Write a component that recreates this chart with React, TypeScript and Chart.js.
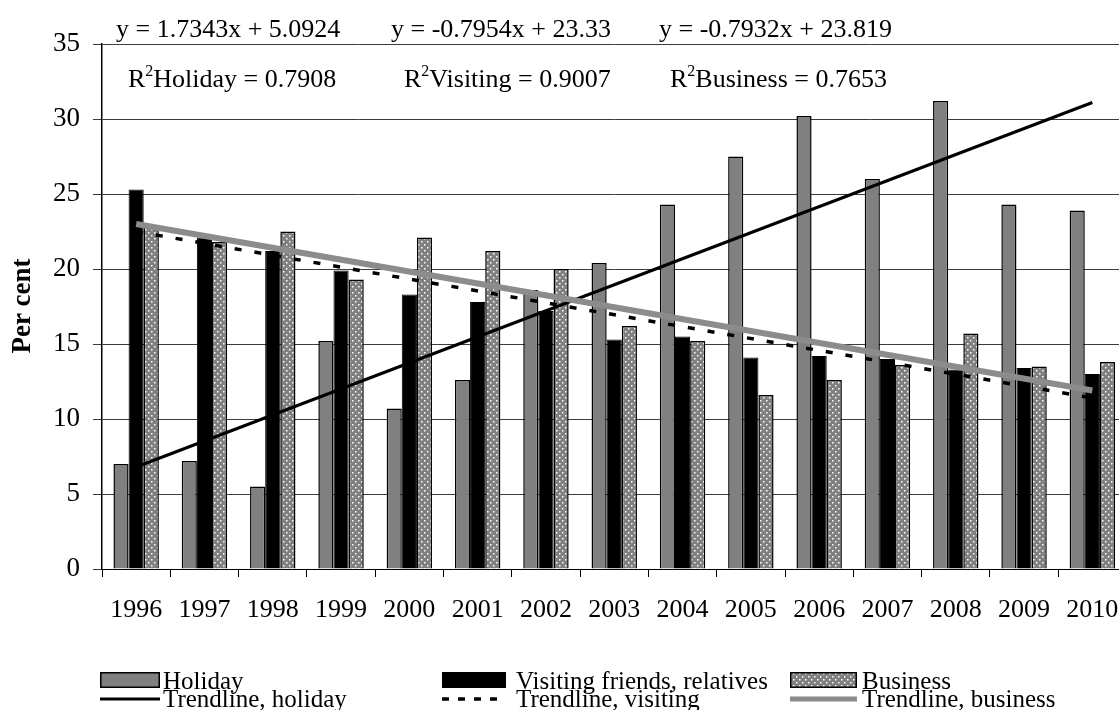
import React, { useEffect, useRef } from 'react';
import { Chart, registerables } from 'chart.js';

Chart.register(...registerables);

const years = ['1996', '1997', '1998', '1999', '2000', '2001', '2002', '2003', '2004', '2005', '2006', '2007', '2008', '2009', '2010'];
const holiday = [7.0, 7.2, 5.5, 15.2, 10.7, 12.6, 18.6, 20.4, 24.3, 27.5, 30.2, 26.0, 31.2, 24.3, 23.9];
const visiting = [25.3, 22.1, 21.2, 19.9, 18.3, 17.8, 17.2, 15.3, 15.5, 14.1, 14.2, 14.0, 13.3, 13.4, 13.0];
const business = [22.9, 21.8, 22.5, 19.3, 22.1, 21.2, 20.0, 16.2, 15.2, 11.6, 12.6, 13.6, 15.7, 13.5, 13.8];
// trendline end values (first and last year)
const trendHolidayEnds = [6.8, 31.1];
const trendVisitingEnds = [22.5, 11.4];
const trendBusinessEnds = [23.0, 11.9];
const yMin = 0;
const yMax = 35;
const yStep = 5;
const equations = ['y = 1.7343x + 5.0924', 'y = -0.7954x + 23.33', 'y = -0.7932x + 23.819'];
const rSquaredNames = ['Holiday', 'Visiting', 'Business'];
const rSquaredValues = ['0.7908', '0.9007', '0.7653'];
const legendBarLabels = ['Holiday', 'Visiting friends, relatives', 'Business'];
const legendLineLabels = ['Trendline, holiday', 'Trendline, visiting', 'Trendline, business'];
const axisTitle = 'Per cent';

const FONT = "'Liberation Serif', 'Times New Roman', serif";

function endsToSeries(ends: number[]): (number | null)[] {
  return years.map((_, i) => (i === 0 ? ends[0] : i === years.length - 1 ? ends[1] : null));
}

function makeDots(): CanvasPattern | string {
  const c = document.createElement('canvas');
  c.width = 6;
  c.height = 6;
  const g = c.getContext('2d');
  if (!g) return '#a0a0a0';
  g.fillStyle = '#808080';
  g.fillRect(0, 0, 6, 6);
  g.fillStyle = '#ffffff';
  g.fillRect(1, 1, 1.5, 1.5);
  g.fillRect(4, 4, 1.5, 1.5);
  return g.createPattern(c, 'repeat') || '#a0a0a0';
}

export default function App() {
  const ref = useRef<HTMLCanvasElement | null>(null);

  useEffect(() => {
    if (!ref.current) return;
    const dots = makeDots();

    const overlay = {
      id: 'overlay',
      afterDraw(chart: any) {
        const ctx = chart.ctx as CanvasRenderingContext2D;
        ctx.save();
        ctx.fillStyle = '#000';
        ctx.textBaseline = 'alphabetic';
        ctx.textAlign = 'left';
        // equations
        ctx.font = `26px ${FONT}`;
        const eqX = [116, 391, 659];
        equations.forEach((t, i) => ctx.fillText(t, eqX[i], 37));
        const rX = [128, 404, 670];
        rSquaredNames.forEach((n, i) => {
          ctx.font = `26px ${FONT}`;
          ctx.fillText('R', rX[i], 87);
          const w = ctx.measureText('R').width;
          ctx.font = `16px ${FONT}`;
          ctx.fillText('2', rX[i] + w, 76);
          const w2 = ctx.measureText('2').width;
          ctx.font = `26px ${FONT}`;
          ctx.fillText(`${n} = ${rSquaredValues[i]}`, rX[i] + w + w2, 87);
        });
        // axis title
        ctx.save();
        ctx.translate(23, 306);
        ctx.rotate(-Math.PI / 2);
        ctx.textAlign = 'center';
        ctx.textBaseline = 'middle';
        ctx.font = `bold 27px ${FONT}`;
        ctx.fillText(axisTitle, 0, 0);
        ctx.restore();
        // legend
        const colX = [100, 442, 790];
        const colW = [60, 64, 67];
        const textX = [163, 516, 862];
        ctx.font = `25px ${FONT}`;
        const fills: (string | CanvasPattern)[] = ['#808080', '#000000', dots];
        for (let i = 0; i < 3; i++) {
          ctx.fillStyle = fills[i] as any;
          ctx.fillRect(colX[i], 672, colW[i], 16);
          ctx.strokeStyle = '#000';
          ctx.lineWidth = 1.5;
          ctx.strokeRect(colX[i] + 0.75, 672.75, colW[i] - 1.5, 14.5);
          ctx.fillStyle = '#000';
          ctx.fillText(legendBarLabels[i], textX[i], 689);
        }
        const ly = 699;
        ctx.lineCap = 'butt';
        ctx.strokeStyle = '#000';
        ctx.lineWidth = 3;
        ctx.setLineDash([]);
        ctx.beginPath();
        ctx.moveTo(colX[0], ly);
        ctx.lineTo(colX[0] + colW[0], ly);
        ctx.stroke();
        ctx.lineWidth = 3.5;
        ctx.setLineDash([7, 9]);
        ctx.beginPath();
        ctx.moveTo(colX[1], ly);
        ctx.lineTo(colX[1] + colW[1], ly);
        ctx.stroke();
        ctx.setLineDash([]);
        ctx.strokeStyle = '#8c8c8c';
        ctx.lineWidth = 5;
        ctx.beginPath();
        ctx.moveTo(colX[2], ly);
        ctx.lineTo(colX[2] + colW[2], ly);
        ctx.stroke();
        ctx.fillStyle = '#000';
        for (let i = 0; i < 3; i++) ctx.fillText(legendLineLabels[i], textX[i], 707);
        ctx.restore();
      },
    };

    const chart = new Chart(ref.current, {
      type: 'bar',
      data: {
        labels: years,
        datasets: [
          {
            type: 'bar',
            label: legendBarLabels[0],
            data: holiday,
            backgroundColor: '#808080',
            borderColor: '#000',
            borderWidth: 1.5,
            order: 10,
          },
          {
            type: 'bar',
            label: legendBarLabels[1],
            data: visiting,
            backgroundColor: '#000',
            borderColor: '#000',
            borderWidth: 1,
            order: 11,
          },
          {
            type: 'bar',
            label: legendBarLabels[2],
            data: business,
            backgroundColor: dots as any,
            borderColor: '#000',
            borderWidth: 1.5,
            order: 12,
          },
          {
            type: 'line',
            label: legendLineLabels[0],
            data: endsToSeries(trendHolidayEnds),
            borderColor: '#000',
            borderWidth: 3,
            pointRadius: 0,
            spanGaps: true,
            order: 3,
          } as any,
          {
            type: 'line',
            label: legendLineLabels[1],
            data: endsToSeries(trendVisitingEnds),
            borderColor: '#000',
            borderWidth: 3.5,
            borderDash: [7, 13],
            pointRadius: 0,
            spanGaps: true,
            order: 2,
          } as any,
          {
            type: 'line',
            label: legendLineLabels[2],
            data: endsToSeries(trendBusinessEnds),
            borderColor: '#8c8c8c',
            borderWidth: 6,
            pointRadius: 0,
            spanGaps: true,
            order: 1,
          } as any,
        ],
      },
      options: {
        responsive: false,
        animation: false,
        devicePixelRatio: 1,
        layout: { padding: { top: 44, left: 0, right: 13.5, bottom: 0 } },
        plugins: {
          legend: { display: false },
          tooltip: { enabled: false },
          title: { display: false },
        },
        datasets: {
          bar: { categoryPercentage: 0.665, barPercentage: 1.0 },
        },
        scales: {
          x: {
            grid: {
              display: true,
              drawOnChartArea: false,
              drawTicks: true,
              tickLength: 8,
              color: '#000',
              offset: true,
            },
            border: { display: true, color: '#000', width: 1 },
            ticks: {
              color: '#000',
              font: { family: FONT, size: 26 },
              padding: 18,
              maxRotation: 0,
              autoSkip: false,
            },
            afterFit(scale: any) {
              scale.height = 141;
            },
          },
          y: {
            min: yMin,
            max: yMax,
            grid: {
              color: '#3c3c3c',
              lineWidth: 1,
              tickLength: 9,
              drawTicks: true,
            },
            border: { display: true, color: '#000', width: 1.5 },
            ticks: {
              stepSize: yStep,
              color: '#000',
              font: { family: FONT, size: 27 },
              padding: 13,
            },
            afterFit(scale: any) {
              scale.width = 102;
            },
          },
        },
      },
      plugins: [overlay],
    });

    return () => chart.destroy();
  }, []);

  return (
    <div
      style={{
        position: 'fixed',
        left: 0,
        top: 0,
        width: 1119,
        height: 710,
        overflow: 'hidden',
        background: '#fff',
      }}
    >
      <canvas ref={ref} width={1140} height={710} style={{ display: 'block' }} />
    </div>
  );
}
